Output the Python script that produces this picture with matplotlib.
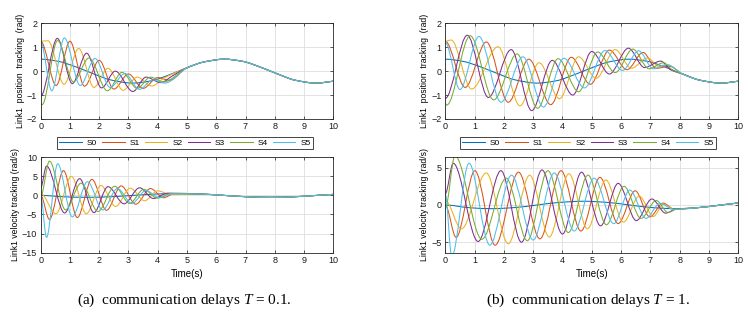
import numpy as np
import matplotlib
matplotlib.use('Agg')
import matplotlib.pyplot as plt
from matplotlib.path import Path
from matplotlib.patches import PathPatch
from matplotlib.lines import Line2D

plt.rcParams['font.family'] = ['Liberation Sans', 'DejaVu Sans']
plt.rcParams['mathtext.fontset'] = 'custom'
plt.rcParams['mathtext.it'] = 'Liberation Serif:italic'
plt.rcParams['mathtext.rm'] = 'Liberation Serif'

NAMES = ['S0', 'S1', 'S2', 'S3', 'S4', 'S5']
COLORS = ['#0072BD', '#D95319', '#EDB120', '#7E2F8E', '#77AC30', '#4DBEEE']

# reference trajectory S0 (same in both cases), knots (t, value)
S0_POS = [(0, 0.50), (0.6, 0.41), (1.2, 0.18), (1.8, -0.11), (2.4, -0.37), (3.14, -0.50),
          (3.8, -0.40), (4.4, -0.15), (5.0, 0.14), (5.6, 0.39), (6.28, 0.50), (6.9, 0.41),
          (7.5, 0.17), (8.1, -0.12), (8.7, -0.38), (9.42, -0.50), (10, -0.42)]
S0_VEL = [(0, 0.0), (0.8, -0.36), (1.57, -0.50), (2.4, -0.34), (3.14, 0.0), (3.9, 0.34),
          (4.71, 0.50), (5.5, 0.35), (6.28, 0.0), (7.05, -0.35), (7.85, -0.50), (8.6, -0.37),
          (9.42, 0.0), (10, 0.27)]

# (a) T = 0.1 : peaks / troughs of the followers before they join S0
A_POS_MERGE = 4.9
A_POS_S1 = [(0, 1.25), (0.53, -0.6), (1.0, 1.25), (1.5, -0.63), (2.0, 0.45), (2.5, -0.75),
            (3.0, -0.12), (3.5, -0.72), (4.0, -0.27), (4.4, -0.38)]
A_POS_S2 = [(0, 1.25), (0.25, 1.27), (0.8, -0.55), (1.3, 0.95), (1.82, -0.68), (2.3, 0.12),
            (2.82, -0.8), (3.3, -0.25), (3.8, -0.62), (4.2, -0.3)]
A_POS_S3 = [(0, -1.05), (0.57, 1.37), (1.08, -0.52), (1.57, 0.75), (2.08, -0.7), (2.55, 0.0),
            (3.15, -0.85), (3.6, -0.25), (4.1, -0.48), (4.5, -0.2)]
A_POS_S4 = [(0, -1.35), (0.05, -1.4), (0.58, 1.28), (1.12, -0.45), (1.65, 0.55), (2.28, -0.82),
            (2.78, -0.05), (3.3, -0.72), (3.75, -0.25), (4.2, -0.45)]
A_POS_S5 = [(0, 1.22), (0.38, -0.82), (0.81, 1.39), (1.35, -0.6), (1.86, 0.53), (2.37, -0.68),
            (2.88, -0.1), (3.37, -0.76), (3.83, -0.37), (4.25, -0.5)]

A_VEL_MERGE = 5.0
A_VEL_S1 = [(0, 0), (0.3, -6.3), (0.78, 6.5), (1.25, -5.8), (1.75, 4.2), (2.25, -3.9),
            (2.75, 2.5), (3.25, -2.3), (3.75, 1.8), (4.2, -0.6), (4.55, 0.4)]
A_VEL_S2 = [(0, 0.5), (0.52, -4.8), (1.05, 5.0), (1.56, -4.8), (2.06, 2.6), (2.56, -2.9),
            (3.06, 1.9), (3.55, -1.4), (4.0, 1.2), (4.45, 0.2)]
A_VEL_S3 = [(0, 2.0), (0.2, 7.7), (0.82, -4.6), (1.33, 4.4), (1.82, -4.5), (2.3, 2.3),
            (2.85, -2.2), (3.38, 2.0), (3.85, -0.8), (4.35, 0.6)]
A_VEL_S4 = [(0, -0.3), (0.3, 9.0), (0.85, -3.8), (1.38, 3.2), (1.96, -4.2), (2.53, 2.4),
            (3.04, -2.1), (3.52, 1.6), (3.98, -0.7), (4.45, 0.5)]
A_VEL_S5 = [(0, 0), (0.2, -11.0), (0.58, 8.3), (1.08, -5.6), (1.6, 3.6), (2.12, -3.8),
            (2.62, 1.8), (3.12, -2.1), (3.6, 1.3), (4.05, -0.6), (4.5, 0.4)]

# (b) T = 1
B_POS_MERGE = 8.0
B_POS_S1 = [(0, 1.25), (0.68, -0.68), (1.4, 1.22), (2.15, -1.3), (2.85, 0.5), (3.6, -1.4),
            (4.3, 0.58), (4.95, -0.55), (5.6, 0.88), (6.2, 0.06), (6.75, 0.78), (7.2, 0.12),
            (7.65, 0.2)]
B_POS_S2 = [(0, 1.25), (0.2, 1.3), (0.9, -0.75), (1.8, 1.02), (2.55, -1.45), (3.2, 0.35),
            (3.9, -1.15), (4.55, 0.6), (5.15, -0.3), (5.8, 0.9), (6.35, 0.12), (6.9, 0.55),
            (7.3, 0.2), (7.6, 0.25)]
B_POS_S3 = [(0, -1.14), (0.75, 1.5), (1.47, -1.1), (2.25, 0.9), (2.95, -1.65), (3.65, 0.45),
            (4.35, -1.0), (5.0, 0.82), (5.6, -0.12), (6.25, 0.96), (6.8, 0.15), (7.35, 0.42),
            (7.7, 0.05)]
B_POS_S4 = [(0, -1.35), (0.05, -1.42), (0.85, 1.48), (1.65, -1.2), (2.45, 0.72), (3.15, -1.55),
            (3.85, 0.52), (4.55, -0.86), (5.2, 0.8), (5.8, -0.06), (6.4, 0.92), (6.95, 0.1),
            (7.45, 0.35), (7.75, 0.05)]
B_POS_S5 = [(0, 1.2), (0.5, -0.77), (1.15, 1.45), (1.9, -1.3), (2.65, 0.6), (3.35, -1.5),
            (4.05, 0.54), (4.75, -0.7), (5.45, 0.86), (6.05, 0.03), (6.6, 0.85), (7.1, 0.1),
            (7.55, 0.28)]

B_VEL_MERGE = 8.2
B_VEL_S1 = [(0, 0), (0.37, -4.35), (1.01, 4.6), (1.7, -5.4), (2.5, 4.4), (3.23, -4.55),
            (3.95, 4.6), (4.63, -3.5), (5.28, 3.7), (5.9, -2.5), (6.48, 1.9), (6.98, -1.6),
            (7.43, 0.25), (7.83, -0.6)]
B_VEL_S2 = [(0, 0.6), (0.55, -3.2), (1.4, 4.3), (2.15, -5.2), (2.88, 4.0), (3.55, -4.3),
            (4.22, 4.2), (4.85, -3.2), (5.48, 3.35), (6.08, -2.3), (6.62, 1.2), (7.1, -1.55),
            (7.45, 0.1), (7.8, -0.6)]
B_VEL_S3 = [(0, 1.5), (0.27, 5.6), (1.12, -4.9), (1.9, 4.6), (2.6, -5.0), (3.3, 4.7),
            (4.0, -3.9), (4.65, 4.4), (5.3, -2.8), (5.9, 2.9), (6.52, -2.1), (7.05, 0.8),
            (7.52, -1.1), (7.85, -0.6)]
B_VEL_S4 = [(0, -0.5), (0.33, 6.6), (1.25, -4.6), (2.08, 3.6), (2.8, -4.8), (3.5, 4.6),
            (4.2, -3.7), (4.87, 4.0), (5.5, -2.65), (6.1, 2.5), (6.68, -1.8), (7.2, 0.6),
            (7.6, -1.0), (7.9, -0.55)]
B_VEL_S5 = [(0, 1.5), (0.22, -6.9), (0.81, 5.6), (1.52, -5.4), (2.26, 4.0), (3.0, -4.7),
            (3.72, 4.3), (4.4, -3.5), (5.08, 3.6), (5.75, -2.5), (6.3, 2.0), (6.85, -1.8),
            (7.32, 0.2), (7.8, -0.6)]


def smooth_path(pts):
    # monotone cubic (pchip-like) drawn as bezier segments through the read knots
    x = np.array([p[0] for p in pts], dtype=float)
    y = np.array([p[1] for p in pts], dtype=float)
    h = np.diff(x)
    d = np.diff(y) / h
    m = np.zeros(len(x))
    m[-1] = d[-1]
    for i in range(1, len(x) - 1):
        if d[i - 1] * d[i] > 0:
            w1 = 2 * h[i] + h[i - 1]
            w2 = h[i] + 2 * h[i - 1]
            m[i] = (w1 + w2) / (w1 / d[i - 1] + w2 / d[i])
    verts = [(x[0], y[0])]
    codes = [Path.MOVETO]
    for i in range(len(h)):
        verts += [(x[i] + h[i] / 3, y[i] + m[i] * h[i] / 3),
                  (x[i + 1] - h[i] / 3, y[i + 1] - m[i + 1] * h[i] / 3),
                  (x[i + 1], y[i + 1])]
        codes += [Path.CURVE4] * 3
    return Path(verts, codes)


def draw(ax, ref, followers, merge):
    tail = [p for p in ref if p[0] >= merge]
    series = [ref] + [f + tail for f in followers]
    for pts, c in zip(series, COLORS):
        ax.add_patch(PathPatch(smooth_path(pts), facecolor='none', edgecolor=c, lw=0.75))


def setup(ax, ylim, yticks, ylabel, xlabel=None):
    ax.set_xlim(0, 10)
    ax.set_ylim(ylim)
    ax.set_xticks(range(11))
    ax.set_yticks(yticks)
    ax.grid(True, color='#dedede', lw=0.6)
    ax.set_axisbelow(True)
    ax.tick_params(direction='in', length=2, width=0.5, labelsize=6.5, top=True, right=True,
                   pad=2.5, colors='#1a1a1a')
    for s in ax.spines.values():
        s.set_linewidth(0.6)
        s.set_color('#262626')
    ax.set_ylabel(ylabel, fontsize=6.2, labelpad=1.5)
    if xlabel:
        ax.set_xlabel(xlabel, fontsize=7, labelpad=3)


fig = plt.figure(figsize=(7.49, 3.19), dpi=100)

ax1 = fig.add_axes([0.0543, 0.627, 0.3907, 0.300])
ax2 = fig.add_axes([0.0543, 0.208, 0.3907, 0.299])
ax3 = fig.add_axes([0.5945, 0.627, 0.3912, 0.300])
ax4 = fig.add_axes([0.5945, 0.208, 0.3912, 0.299])

draw(ax1, S0_POS, [A_POS_S1, A_POS_S2, A_POS_S3, A_POS_S4, A_POS_S5], A_POS_MERGE)
draw(ax2, S0_VEL, [A_VEL_S1, A_VEL_S2, A_VEL_S3, A_VEL_S4, A_VEL_S5], A_VEL_MERGE)
draw(ax3, S0_POS, [B_POS_S1, B_POS_S2, B_POS_S3, B_POS_S4, B_POS_S5], B_POS_MERGE)
draw(ax4, S0_VEL, [B_VEL_S1, B_VEL_S2, B_VEL_S3, B_VEL_S4, B_VEL_S5], B_VEL_MERGE)

setup(ax1, (-2, 2), [-2, -1, 0, 1, 2], 'Link1  position  tracking  (rad)')
setup(ax2, (-15, 10), [-15, -10, -5, 0, 5, 10], 'Link1 velocity tracking (rad/s)', 'Time(s)')
setup(ax3, (-2, 2), [-2, -1, 0, 1, 2], 'Link1  position  tracking  (rad)')
setup(ax4, (-6.4, 6.4), [-5, 0, 5], 'Link1 velocity tracking (rad/s)', 'Time(s)')

handles = [Line2D([], [], color=c, lw=0.75) for c in COLORS]
for xc in (0.247, 0.785):
    leg = fig.legend(handles, NAMES, ncol=6, loc='center', bbox_to_anchor=(xc, 0.552),
                     fontsize=6, frameon=True, fancybox=False, edgecolor='#262626',
                     handlelength=2.7, handletextpad=0.6, columnspacing=0.6,
                     borderpad=0.25, framealpha=1)
    leg.get_frame().set_linewidth(0.6)

fig.text(0.2457, 1 - 300 / 319, '(a)  communication delays $T$ = 0.1.', ha='center',
         va='center', fontsize=11, family='Liberation Serif')
fig.text(0.785, 1 - 300 / 319, '(b)  communication delays $T$ = 1.', ha='center',
         va='center', fontsize=11, family='Liberation Serif')

fig.savefig('out.png', dpi=100)
